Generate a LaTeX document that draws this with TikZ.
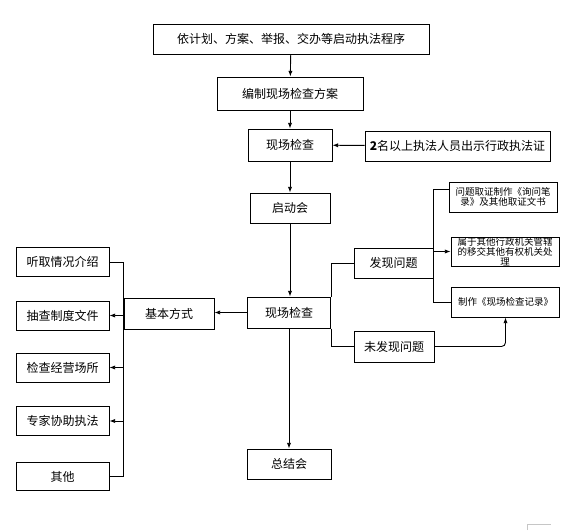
\documentclass[tikz,border=0pt]{standalone}
\usepackage{fontspec}
\newfontfamily\cjk{Noto Sans CJK SC}
\usepackage{tikz}
\usetikzlibrary{arrows.meta,positioning}
\tikzset{
  box/.style={draw, line width=1pt, align=center, inner sep=1pt, minimum height=30pt, font=\cjk\fontsize{12}{14}\selectfont},
  smallbox/.style={draw, line width=1pt, align=center, inner sep=0pt, minimum height=29pt, minimum width=108pt, font=\cjk\fontsize{9.5}{10}\selectfont},
  line/.style={-{Latex[length=2.0mm]}, line width=0.9pt},
  link/.style={line width=0.9pt}
}

\begin{document}
\begin{tikzpicture}[x=1pt, y=-1pt]
  \useasboundingbox (0,0) rectangle (585,530);
  % main column
  \node[box, minimum width=276pt] (start) at (291,39) {依计划、方案、举报、交办等启动执法程序};
  \node[box, minimum width=146pt, minimum height=33pt] (plan) at (290,93.5) {编制现场检查方案};
  \node[box, minimum width=84pt, minimum height=32pt] (insp1) at (290,145) {现场检查};
  \node[box, minimum width=185pt] (cert) at (457.5,146) {\textbf{2}名以上执法人员出示行政执法证};
  \node[box, minimum width=80pt] (kick) at (290,208) {启动会};
  \node[box, minimum width=83pt, minimum height=31pt] (insp2) at (289,312.5) {现场检查};
  \node[box, minimum width=84pt] (summ) at (289,464) {总结会};
  % left side
  \node[box, minimum width=90pt, minimum height=31pt] (basic) at (169,313.5) {基本方式};
  \node[box, minimum width=93pt, minimum height=29pt] (way1) at (62.5,262) {听取情况介绍};
  \node[box, minimum width=93pt, minimum height=29pt] (way2) at (62.5,315.5) {抽查制度文件};
  \node[box, minimum width=93pt, minimum height=29pt] (way3) at (62.5,367.5) {检查经营场所};
  \node[box, minimum width=93pt, minimum height=29pt] (way4) at (62.5,421) {专家协助执法};
  \node[box, minimum width=93pt, minimum height=28pt] (way5) at (62.5,476.5) {其他};
  % right side
  \node[box, minimum width=79pt] (found) at (393.5,263) {发现问题};
  \node[box, minimum width=80pt, minimum height=31pt] (nofound) at (394,346.5) {未发现问题};
  \node[smallbox, minimum height=30pt] (evid) at (503,197) {问题取证制作《询问笔\\录》及其他取证文书};
  \node[smallbox] (hand) at (505,251.5) {属于其他行政机关管辖\\的移交其他有权机关处\\理};
  \node[smallbox, minimum height=30pt] (record) at (505.5,302) {制作《现场检查记录》};

  \draw[line] (start) -- (plan);
  \draw[line] (plan) -- (insp1);
  \draw[line] (cert) -- (insp1);
  \draw[line] (insp1) -- (kick);
  \draw[line] (kick.south) -- (kick.south |- insp2.north);
  \draw[line] (insp2.south) -- (insp2.south |- summ.north);
  \draw[line] (insp2.west) -- (insp2.west -| basic.east);

  \draw[link] (way1.east) -- (basic.west |- way1.east) -- (basic.west |- way5.east) -- (way5.east);
  \draw[line] (basic.west |- way2.east) -- (way2.east);
  \draw[line] (basic.west |- way3.east) -- (way3.east);
  \draw[line] (basic.west |- way4.east) -- (way4.east);

  \draw[link] (insp2.north east) |- (found.west);
  \draw[link] (insp2.south east) |- (nofound.west);
  \draw[link] ([yshift=8pt]evid.west) -| (found.east) |- (record.west);
  \draw[line] (found.east |- hand.west) -- (hand.west);
  \draw[line, rounded corners=4pt] (nofound.east) -| (record.south);

  \draw[gray!45, line width=0.6pt] (527,530) -- (527,524) -- (551,524);
\end{tikzpicture}
\end{document}
